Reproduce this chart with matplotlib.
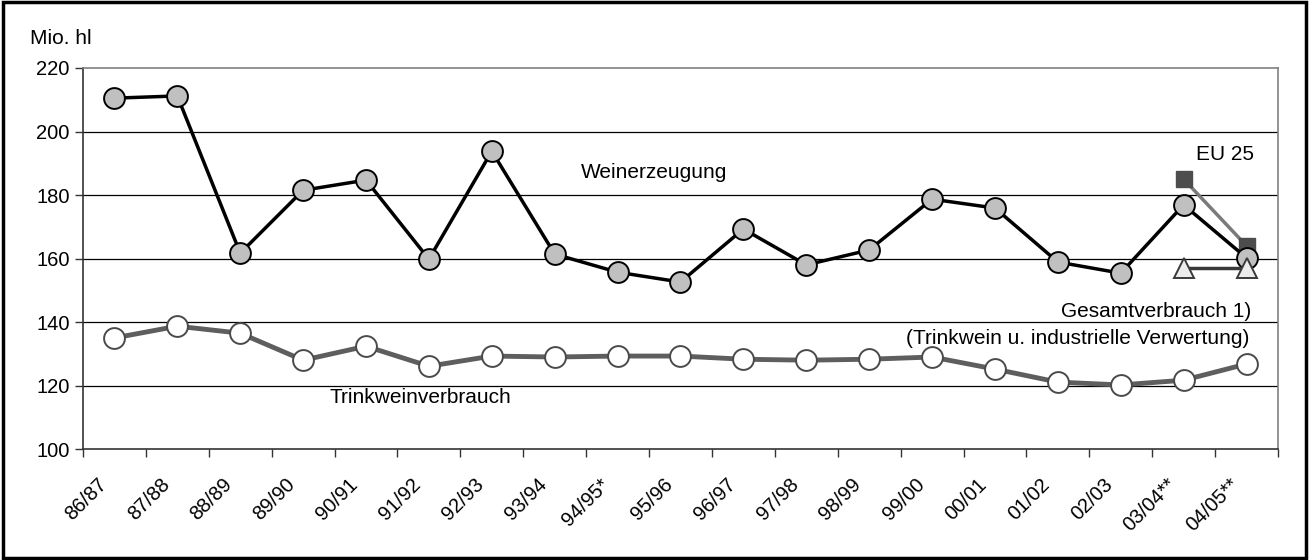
import matplotlib.pyplot as plt
from matplotlib.patches import Rectangle
import numpy as np

plt.rcParams['font.family'] = ['Liberation Sans', 'DejaVu Sans']

# Wirtschaftsjahre
jahre = ['86/87', '87/88', '88/89', '89/90', '90/91', '91/92', '92/93', '93/94',
         '94/95*', '95/96', '96/97', '97/98', '98/99', '99/00', '00/01', '01/02',
         '02/03', '03/04**', '04/05**']

# Mio. hl
weinerzeugung = [210.5, 211.2, 161.7, 181.5, 184.7, 159.8, 193.8, 161.4, 155.7,
                 152.6, 169.3, 158.0, 162.7, 178.7, 175.9, 158.9, 155.4, 176.9, 160.2]
trinkwein = [135.0, 138.7, 136.5, 128.0, 132.4, 126.1, 129.3, 129.0, 129.3,
             129.3, 128.3, 128.0, 128.3, 129.0, 125.2, 121.1, 120.2, 121.7, 126.8]
eu25_erzeugung = [185.0, 164.0]
gesamtverbrauch = [157.0, 157.0]

x = np.arange(len(jahre))
x_eu = x[-2:]

fig = plt.figure(figsize=(13.09, 5.6), dpi=100)
ax = fig.add_axes([0.0634, 0.198, 0.9129, 0.6806])

# grid lines
for v in [120, 140, 160, 180, 200]:
    ax.axhline(v, color='black', lw=0.9, zorder=0)

ax.plot(x_eu, eu25_erzeugung, color='#7a7a7a', lw=2.5, marker='s', ms=11.5,
        mfc='#4d4d4d', mec='#4d4d4d', zorder=2)
ax.plot(x, trinkwein, color='#5e5e5e', lw=3.5, marker='o', ms=15,
        mfc='white', mec='#4a4a4a', mew=1.4, zorder=3)
ax.plot(x, weinerzeugung, color='black', lw=2.5, marker='o', ms=15,
        mfc='#c0c0c0', mec='black', mew=1.4, zorder=4)
ax.plot(x_eu, gesamtverbrauch, color='#3a3a3a', lw=2.5, marker='^', ms=15,
        mfc='#ececec', mec='#3a3a3a', mew=1.4, zorder=5)

ax.set_xlim(-0.5, len(jahre) - 0.5)
ax.set_ylim(100, 220)
ax.set_yticks(range(100, 221, 20))

# ticks at category boundaries, labels below the category centres
ax.set_xticks(np.arange(-0.5, len(jahre), 1.0))
ax.set_xticklabels([])
for xi, lab in zip(x, jahre):
    ax.annotate(lab, xy=(xi, 0), xycoords=('data', 'axes fraction'),
                xytext=(-12.6, -18.7), textcoords='offset points',
                rotation=45, rotation_mode='anchor', ha='right', va='top',
                fontsize=14.5, annotation_clip=False)
ax.tick_params(axis='x', length=6, width=1, direction='out', color='#333333')
ax.tick_params(axis='y', length=6, width=1, direction='out', labelsize=14.5, color='#333333')

ax.spines['top'].set_color('#808080')
ax.spines['right'].set_color('#808080')
ax.spines['left'].set_color('#333333')
ax.spines['bottom'].set_color('#333333')
for s in ax.spines.values():
    s.set_linewidth(1.2)

fs = 15
ax.text(8.58, 187.2, 'Weinerzeugung', fontsize=fs, ha='center', va='center')
ax.text(0.9556, 0.774, 'EU 25', fontsize=fs, ha='center', va='center',
        transform=ax.transAxes)
ax.text(0.978, 0.362, 'Gesamtverbrauch 1)', fontsize=fs, ha='right', va='center',
        transform=ax.transAxes)
ax.text(0.976, 0.290, '(Trinkwein u. industrielle Verwertung)', fontsize=fs,
        ha='right', va='center', transform=ax.transAxes)
ax.text(4.87, 116.4, 'Trinkweinverbrauch', fontsize=fs, ha='center', va='center')

fig.text(0.023, 0.931, 'Mio. hl', fontsize=fs, ha='left', va='center')

fig.patches.append(Rectangle((0.002, 0.004), 0.996, 0.992, transform=fig.transFigure,
                             fill=False, edgecolor='black', lw=2.5))

fig.savefig('out.png', dpi=100)
